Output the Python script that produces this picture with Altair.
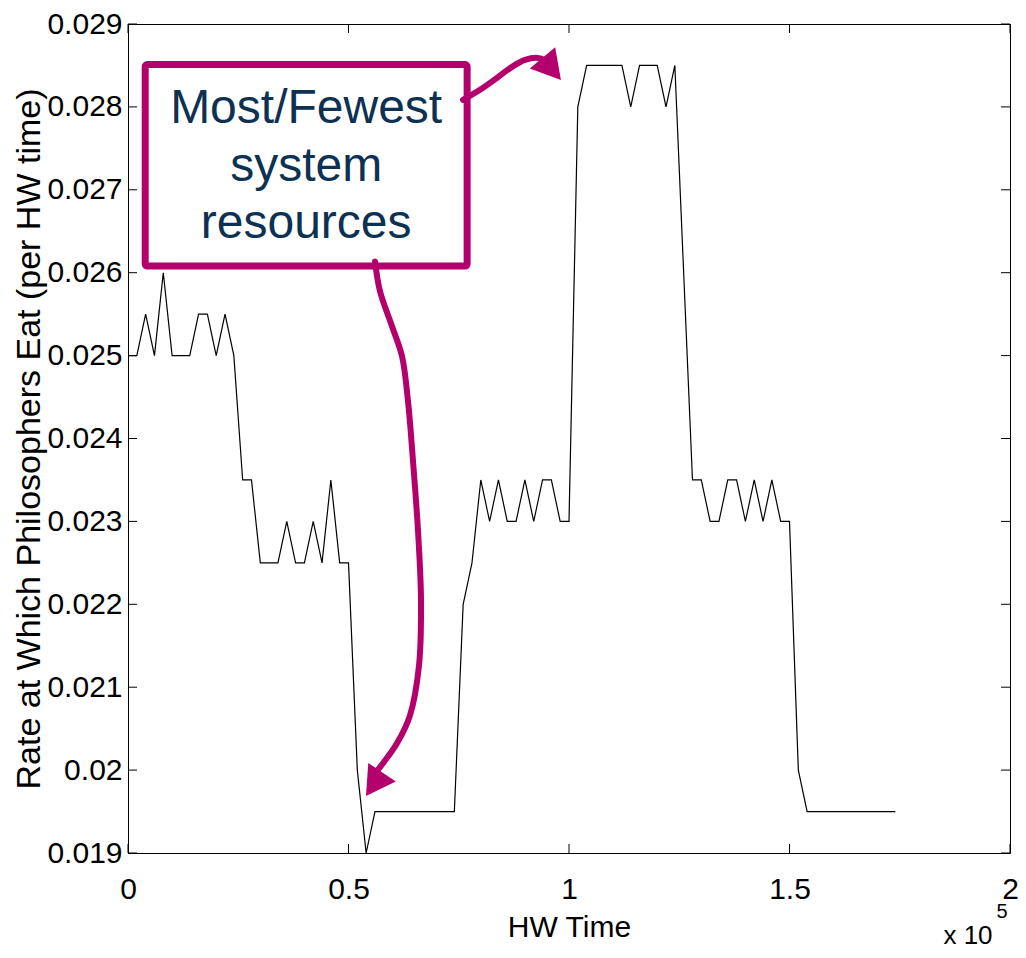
import altair as alt
import pandas as pd

# ---- data ----
hw_time = [0, 2000, 4000, 6000, 8000, 10000, 12000, 14000, 16000, 18000,
           20000, 22000, 24000, 26000, 28000, 30000, 32000, 34000, 36000, 38000,
           40000, 42000, 44000, 46000, 48000, 50000, 52000, 54000, 56000, 58000,
           60000, 62000, 64000, 66000, 68000, 70000, 72000, 74000, 76000, 78000,
           80000, 82000, 84000, 86000, 88000, 90000, 92000, 94000, 96000, 98000,
           100000, 102000, 104000, 106000, 108000, 110000, 112000, 114000, 116000, 118000,
           120000, 122000, 124000, 126000, 128000, 130000, 132000, 134000, 136000, 138000,
           140000, 142000, 144000, 146000, 148000, 150000, 152000, 154000, 156000, 158000,
           160000, 162000, 164000, 166000, 168000, 170000, 172000, 174000]
eat_rate = [0.025, 0.025, 0.0255, 0.025, 0.026, 0.025, 0.025, 0.025, 0.0255, 0.0255,
            0.025, 0.0255, 0.025, 0.0235, 0.0235, 0.0225, 0.0225, 0.0225, 0.023, 0.0225,
            0.0225, 0.023, 0.0225, 0.0235, 0.0225, 0.0225, 0.020, 0.019, 0.0195, 0.0195,
            0.0195, 0.0195, 0.0195, 0.0195, 0.0195, 0.0195, 0.0195, 0.0195, 0.022, 0.0225,
            0.0235, 0.023, 0.0235, 0.023, 0.023, 0.0235, 0.023, 0.0235, 0.0235, 0.023,
            0.023, 0.028, 0.0285, 0.0285, 0.0285, 0.0285, 0.0285, 0.028, 0.0285, 0.0285,
            0.0285, 0.028, 0.0285, 0.026, 0.0235, 0.0235, 0.023, 0.023, 0.0235, 0.0235,
            0.023, 0.0235, 0.023, 0.0235, 0.023, 0.023, 0.020, 0.0195, 0.0195, 0.0195,
            0.0195, 0.0195, 0.0195, 0.0195, 0.0195, 0.0195, 0.0195, 0.0195]

y_ticks = [0.019, 0.020, 0.021, 0.022, 0.023, 0.024, 0.025, 0.026, 0.027, 0.028, 0.029]
x_ticks = [0, 50000, 100000, 150000, 200000]

# annotation (in data units)
note_lines = ["Most/Fewest", "system", "resources"]
note_x = [40400, 40400, 40400]
note_y = [0.02798, 0.02728, 0.02659]
box_x = [3900]
box_x2 = [76900]
box_y = [0.02608]
box_y2 = [0.02851]

arrow_top_x = [75964, 79819, 83673, 87075, 90023, 92971, 94558]
arrow_top_y = [0.028085, 0.028206, 0.02835, 0.028483, 0.028567, 0.028591, 0.028567]
arrow_low_x = [56009, 57143, 59864, 62132, 63492, 64626, 65760, 66440, 65986,
               63946, 60998, 57823, 56236]
arrow_low_y = [0.026136, 0.025775, 0.025354, 0.024993, 0.024451, 0.023729, 0.022887,
               0.022045, 0.021262, 0.020661, 0.020323, 0.020083, 0.019975]
head_x = [96077, 55782]
head_y = [0.028458, 0.01983]
head_angle = [140, 214]

MAG = "#b4006c"
NAVY = "#0c3152"
FONT = "Liberation Sans"
W, H = 882, 829

xs = alt.Scale(domain=[0, 200000], nice=False, zero=False)
ys = alt.Scale(domain=[0.019, 0.029], nice=False, zero=False)

x_axis = alt.Axis(values=x_ticks, labelExpr="datum.value / 100000",
                  ticks=False, tickSize=0, domain=False, grid=False,
                  labelFontSize=30, labelPadding=21, labelFlush=False,
                  labelOverlap=False, title="HW Time", titleFontSize=30,
                  titlePadding=8)
y_axis = alt.Axis(values=y_ticks, format=".3~f", ticks=False, tickSize=0,
                  domain=False, grid=False, labelFontSize=30, labelPadding=6,
                  labelOverlap=False, labelFlush=False,
                  title="Rate at Which Philosophers Eat (per HW time)",
                  titleFontSize=34, titlePadding=0)


def X(field):
    return alt.X(field, scale=xs, axis=x_axis)


def Y(field):
    return alt.Y(field, scale=ys, axis=y_axis)


df = pd.DataFrame({"t": hw_time, "r": eat_rate})

line = alt.Chart(df).mark_line(color="black", strokeWidth=1.2).encode(
    x=X("t:Q"), y=Y("r:Q"))

yt = pd.DataFrame({"v": y_ticks})
xt = pd.DataFrame({"v": x_ticks})
tick_l = alt.Chart(yt).mark_rule(color="black", strokeWidth=1).encode(
    y=Y("v:Q"), x=alt.value(0), x2=alt.value(9))
tick_r = alt.Chart(yt).mark_rule(color="black", strokeWidth=1).encode(
    y=Y("v:Q"), x=alt.value(W - 9), x2=alt.value(W))
tick_b = alt.Chart(xt).mark_rule(color="black", strokeWidth=1).encode(
    x=X("v:Q"), y=alt.value(H - 9), y2=alt.value(H))
tick_t = alt.Chart(xt).mark_rule(color="black", strokeWidth=1).encode(
    x=X("v:Q"), y=alt.value(0), y2=alt.value(9))

box = alt.Chart(pd.DataFrame({"x": box_x, "x2": box_x2, "y": box_y, "y2": box_y2})).mark_rect(
    fill="white", stroke=MAG, strokeWidth=7, cornerRadius=2).encode(
    x=X("x:Q"), x2="x2:Q", y=Y("y:Q"), y2="y2:Q")

note = alt.Chart(pd.DataFrame({"x": note_x, "y": note_y, "s": note_lines})).mark_text(
    font=FONT, fontSize=48, color=NAVY, baseline="middle", align="center").encode(
    x=X("x:Q"), y=Y("y:Q"), text="s:N")

a1 = alt.Chart(pd.DataFrame({"x": arrow_top_x, "y": arrow_top_y,
                             "i": list(range(len(arrow_top_x)))})).mark_line(
    color=MAG, strokeWidth=6, interpolate="catmull-rom", strokeCap="round").encode(
    x=X("x:Q"), y=Y("y:Q"), order="i:Q")
a2 = alt.Chart(pd.DataFrame({"x": arrow_low_x, "y": arrow_low_y,
                             "i": list(range(len(arrow_low_x)))})).mark_line(
    color=MAG, strokeWidth=6, interpolate="catmull-rom", strokeCap="round").encode(
    x=X("x:Q"), y=Y("y:Q"), order="i:Q")

heads = alt.Chart(pd.DataFrame({"x": head_x, "y": head_y, "a": head_angle})).mark_point(
    shape="triangle-up", filled=True, color=MAG, size=1100, opacity=1, strokeWidth=0).encode(
    x=X("x:Q"), y=Y("y:Q"), angle=alt.Angle("a:Q", scale=None))

exp_base = alt.Chart(pd.DataFrame({"s": ["x 10"]})).mark_text(
    font=FONT, fontSize=26, color="black", align="center", baseline="middle").encode(
    text="s:N", x=alt.value(840), y=alt.value(912))
exp_pow = alt.Chart(pd.DataFrame({"s": ["5"]})).mark_text(
    font=FONT, fontSize=20, color="black", align="center", baseline="middle").encode(
    text="s:N", x=alt.value(874), y=alt.value(888))

chart = alt.layer(line, box, note, a1, a2, heads, tick_l, tick_r, tick_b, tick_t,
                  exp_base, exp_pow).properties(
    width=W, height=H, autosize=alt.AutoSizeParams(type="none"),
    padding={"left": 120, "top": 16, "right": 8, "bottom": 100},
    background="white",
).configure_view(stroke="black", strokeWidth=1).configure_axis(
    labelFont=FONT, titleFont=FONT, labelColor="black", titleColor="black",
    titleFontWeight="normal")

chart.save("out.html", embed_options={"renderer": "svg", "actions": False})
